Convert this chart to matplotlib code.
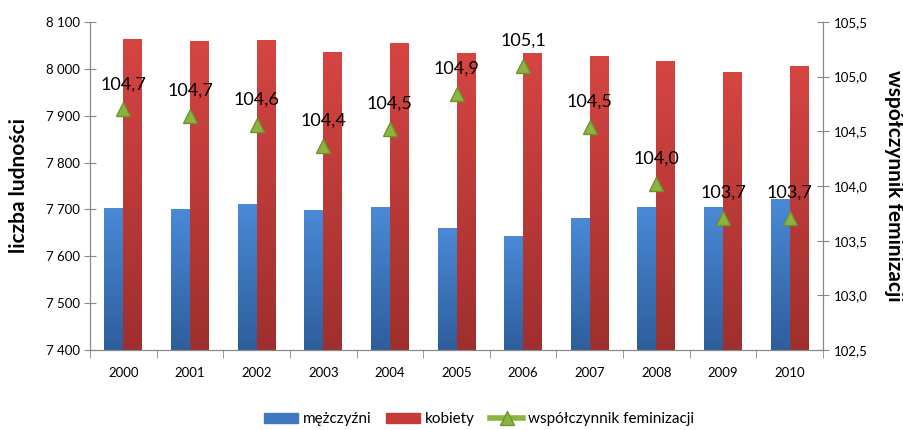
import numpy as np
import matplotlib
matplotlib.use("Agg")
import matplotlib.pyplot as plt
import matplotlib.ticker as ticker
from matplotlib.colors import LinearSegmentedColormap
from matplotlib.lines import Line2D
from matplotlib.patches import Patch

plt.rcParams['font.family'] = ['Lato', 'DejaVu Sans']

# dane
lata = ['2000', '2001', '2002', '2003', '2004', '2005', '2006', '2007', '2008', '2009', '2010']
mezczyzni = [7703, 7701, 7712, 7699, 7706, 7661, 7643, 7681, 7706, 7706, 7723]
kobiety = [8064, 8059, 8062, 8035, 8055, 8033, 8033, 8027, 8016, 7993, 8007]
wspolczynnik = [104.70, 104.64, 104.56, 104.37, 104.52, 104.84, 105.10, 104.54, 104.02, 103.71, 103.71]
etykiety = ['104,7', '104,7', '104,6', '104,4', '104,5', '104,9', '105,1', '104,5', '104,0', '103,7', '103,7']

fig = plt.figure(figsize=(9.04, 4.30), dpi=100)
ax1 = fig.add_axes([0.0996, 0.186, 0.8108, 0.763])
ax2 = ax1.twinx()

x = np.arange(len(lata))
w = 0.285

niebieski = LinearSegmentedColormap.from_list('nb', ['#2E5E9C', '#4A8AD6'])
czerwony = LinearSegmentedColormap.from_list('cz', ['#9E2F2E', '#D64542'])
grad = np.linspace(0, 1, 256).reshape(-1, 1)

bars_m = ax1.bar(x - w / 2, mezczyzni, width=w, color='#3F78C0', zorder=2)
bars_k = ax1.bar(x + w / 2, kobiety, width=w, color='#C43B39', zorder=2)

# gradient na slupkach
for bars, cmap in ((bars_m, niebieski), (bars_k, czerwony)):
    for b in bars:
        x0, y0 = b.get_x(), 7400
        x1, y1 = b.get_x() + b.get_width(), b.get_height()
        im = ax1.imshow(grad, cmap=cmap, origin='lower', aspect='auto',
                        extent=[x0, x1, y0, y1], zorder=2.5)
        im.set_clip_path(b)
ax1.set_xlim(-0.5, len(lata) - 0.5)
ax1.set_ylim(7400, 8100)

ax2.plot(x, wspolczynnik, linestyle='none', marker='^', markersize=10,
         markerfacecolor='#8DB43E', markeredgecolor='#6F9230', zorder=5)
for xi, yi, t in zip(x, wspolczynnik, etykiety):
    ax2.annotate(t, (xi, yi), xytext=(0, 18), textcoords='offset points',
                 ha='center', va='center', fontsize=13, color='black')
ax2.set_ylim(102.5, 105.5)
ax2.set_zorder(ax1.get_zorder() + 1)
ax2.patch.set_visible(False)

# osie
szary = '#888888'
for ax in (ax1, ax2):
    ax.spines['top'].set_visible(False)
    for s in ('left', 'right', 'bottom'):
        ax.spines[s].set_color(szary)
ax1.set_xticks(x)
ax1.set_xticklabels(lata, fontsize=9.5)
ax1.set_xticks(np.arange(-0.5, len(lata)), minor=True)
ax1.tick_params(axis='x', which='major', length=0, pad=12)
ax1.tick_params(axis='x', which='minor', length=6, direction='out', color=szary)
ax1.yaxis.set_major_locator(ticker.MultipleLocator(100))
ax1.yaxis.set_major_formatter(ticker.FuncFormatter(lambda v, p: f"{int(v):,}".replace(',', ' ')))
ax1.tick_params(axis='y', direction='inout', length=8, color=szary, labelsize=9.5)
ax2.yaxis.set_major_locator(ticker.MultipleLocator(0.5))
ax2.yaxis.set_major_formatter(ticker.FuncFormatter(lambda v, p: f"{v:.1f}".replace('.', ',')))
ax2.tick_params(axis='y', direction='inout', length=8, color=szary, labelsize=9.5)

ax1.set_ylabel('liczba ludności', fontsize=15, fontweight='bold', labelpad=12)
ax2.set_ylabel('współczynnik feminizacji', fontsize=15, fontweight='bold',
               rotation=270, labelpad=26)

uchwyty = [Patch(color='#3F78C0'), Patch(color='#C43B39'),
           Line2D([], [], color='#8DB43E', lw=4, marker='^', markersize=10,
                  markerfacecolor='#8DB43E', markeredgecolor='#6F9230')]
fig.legend(uchwyty, ['mężczyźni', 'kobiety', 'współczynnik feminizacji'],
           loc='center', bbox_to_anchor=(0.53, 0.025), ncol=3, frameon=False,
           fontsize=11, handlelength=2.2, handletextpad=0.3, columnspacing=1.0)

fig.savefig('out.png', dpi=100)
